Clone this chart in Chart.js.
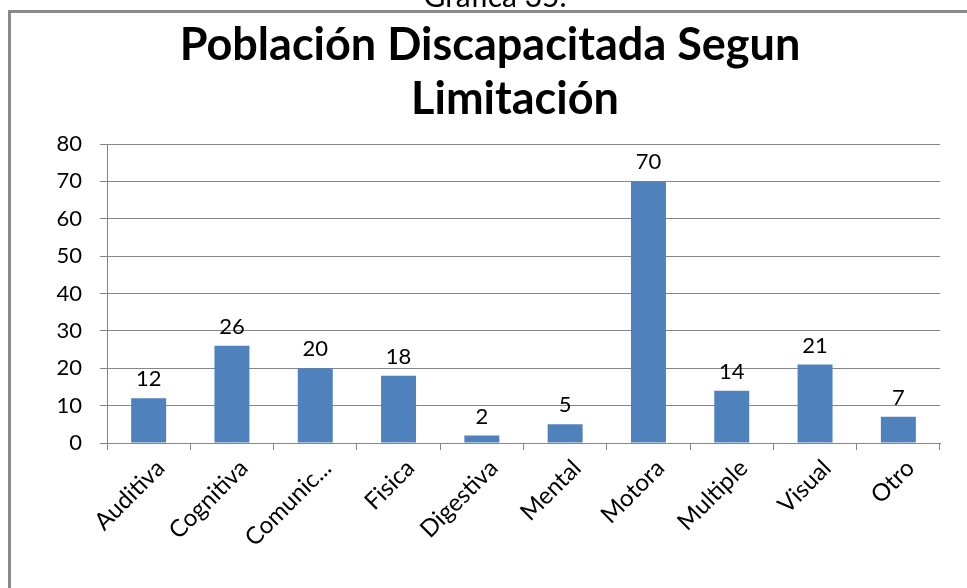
<!DOCTYPE html>
<html>
<head>
<meta charset="utf-8">
<title>Población Discapacitada Segun Limitación</title>
<script src="https://cdn.jsdelivr.net/npm/chart.js@4.4.1/dist/chart.umd.min.js"></script>
<style>
  html, body { margin: 0; padding: 0; background: #fff; overflow: hidden; }
  #wrap { width: 967px; height: 588px; }
</style>
</head>
<body>
<div id="wrap"><canvas id="grafica" width="967" height="588"></canvas></div>
<script>
const categorias = ['Auditiva', 'Cognitiva', 'Comunic...', 'Fisica', 'Digestiva', 'Mental', 'Motora', 'Multiple', 'Visual', 'Otro'];
const poblacion = [12, 26, 20, 18, 2, 5, 70, 14, 21, 7];
const tituloLineas = ['Población Discapacitada Segun', 'Limitación'];
const encabezado = 'Grafica 35.';

const FUENTE = 'Lato, "Open Sans", sans-serif';

// frame, caption and title drawn behind the chart
const marcoPlugin = {
    id: 'marco',
    beforeDraw(chart) {
        const ctx = chart.ctx;
        ctx.save();
        ctx.fillStyle = '#ffffff';
        ctx.fillRect(0, 0, chart.width, chart.height);

        ctx.strokeStyle = '#8a8a8a';
        ctx.lineWidth = 3;
        ctx.strokeRect(9.5, 11.5, chart.width + 20, chart.height + 20);

        ctx.fillStyle = '#000';
        ctx.textAlign = 'center';
        ctx.textBaseline = 'alphabetic';
        ctx.font = '30px ' + FUENTE;
        ctx.fillText(encabezado, 495, 7);

        ctx.font = 'bold 45px ' + FUENTE;
        ctx.fillText(tituloLineas[0], 490, 60);
        ctx.fillText(tituloLineas[1], 515, 114);
        ctx.restore();
    }
};

// value printed above each bar
const valoresPlugin = {
    id: 'valores',
    afterDatasetsDraw(chart) {
        const ctx = chart.ctx;
        const meta = chart.getDatasetMeta(0);
        ctx.save();
        ctx.fillStyle = '#000';
        ctx.font = '22px ' + FUENTE;
        ctx.textAlign = 'center';
        ctx.textBaseline = 'alphabetic';
        meta.data.forEach((bar, i) => {
            ctx.fillText(String(poblacion[i]), bar.x, bar.y - 12);
        });
        ctx.restore();
    }
};

const ctx = document.getElementById('grafica').getContext('2d');
new Chart(ctx, {
    type: 'bar',
    data: {
        labels: categorias,
        datasets: [{
            label: 'Población',
            data: poblacion,
            backgroundColor: '#4f81bd',
            borderWidth: 0,
            barPercentage: 0.42,
            categoryPercentage: 1.0,
        }],
    },
    options: {
        responsive: false,
        animation: false,
        layout: {
            padding: { top: 144, right: 27, left: 0, bottom: 0 },
        },
        plugins: {
            legend: { display: false },
            title: { display: false },
            tooltip: { enabled: false },
        },
        scales: {
            x: {
                grid: {
                    offset: true,
                    drawOnChartArea: false,
                    drawTicks: true,
                    tickLength: 7,
                    color: '#868686',
                },
                border: { color: '#868686', width: 1 },
                ticks: {
                    minRotation: 45,
                    maxRotation: 45,
                    autoSkip: false,
                    padding: 4,
                    labelOffset: 12,
                    color: '#000',
                    font: { family: FUENTE, size: 24 },
                },
                afterFit(scale) {
                    scale.height = 145;
                },
            },
            y: {
                min: 0,
                max: 80,
                ticks: {
                    stepSize: 10,
                    padding: 18,
                    color: '#000',
                    font: { family: FUENTE, size: 22 },
                },
                grid: {
                    color: '#868686',
                    lineWidth: 1,
                    tickLength: 7,
                },
                border: { color: '#868686', width: 1 },
                afterFit(scale) {
                    scale.width = 107;
                },
            },
        },
    },
    plugins: [marcoPlugin, valoresPlugin],
});
</script>
</body>
</html>
